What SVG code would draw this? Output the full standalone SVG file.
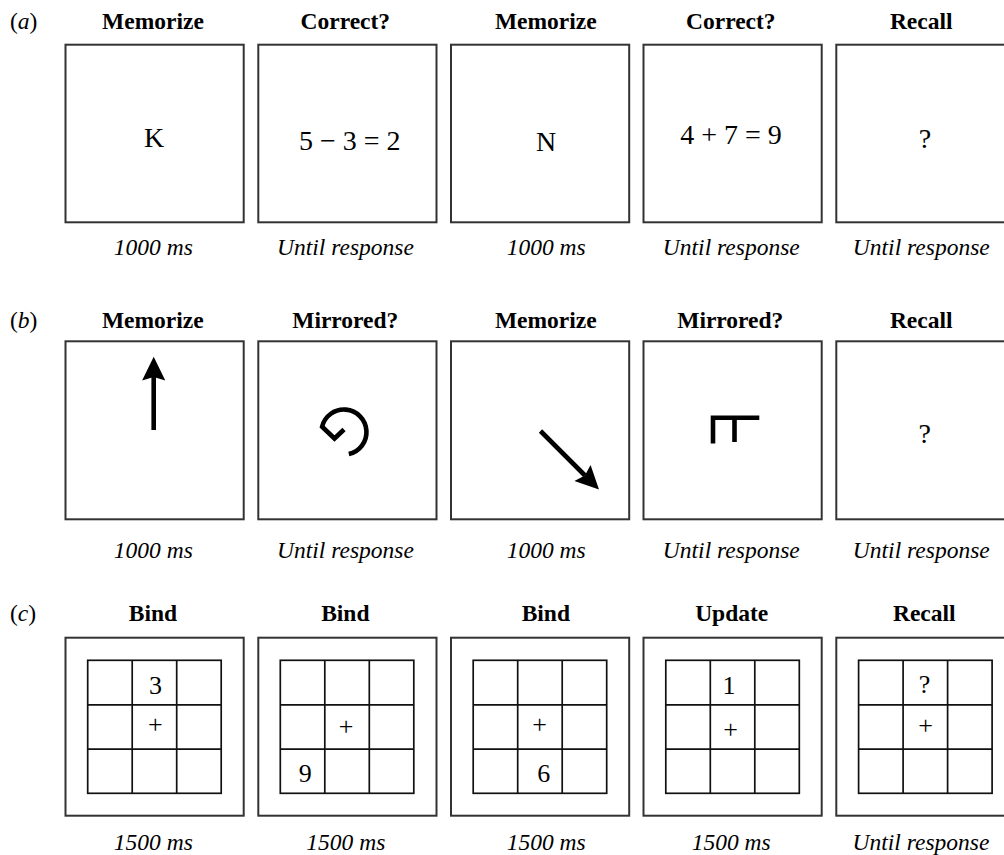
<svg xmlns="http://www.w3.org/2000/svg" xmlns:xlink="http://www.w3.org/1999/xlink" width="1004" height="855" viewBox="0 0 1004 855">
<style>
text{font-family:"Liberation Serif","Times New Roman",serif;fill:#000}
.title{font-size:23.5px;font-weight:bold;text-anchor:middle}
.dur{font-size:23.5px;font-style:italic;text-anchor:middle}
.sec{font-size:23.5px}
.stim{font-size:28px;text-anchor:middle}
.cell{font-size:26px;text-anchor:middle}
.box{fill:#fff;stroke:#333;stroke-width:2}
.glyph{fill:none;stroke:#000;stroke-width:4.6;stroke-linejoin:miter;stroke-linecap:butt}
</style>
<defs>
<g id="grid">
<rect x="0" y="0" width="133.5" height="133" fill="none" stroke="#111" stroke-width="1.7"/>
<path d="M44.5,0V133M89,0V133M0,44.5H133.5M0,88.8H133.5" fill="none" stroke="#111" stroke-width="1.7"/>
</g>
</defs>
<rect width="1004" height="855" fill="#fff"/>

<!-- Row a -->
<g id="row-a">
<text class="sec" x="10" y="29">(<tspan font-style="italic">a</tspan>)</text>
<g id="a1"><text class="title" x="153" y="29">Memorize</text><rect class="box" x="65.5" y="44.7" width="178.2" height="177.6"/><text class="stim" x="154" y="147">K</text><text class="dur" x="153.3" y="255">1000 ms</text></g>
<g id="a2"><text class="title" x="345.3" y="29">Correct?</text><rect class="box" x="258.3" y="44.7" width="178.2" height="177.6"/><text class="stim" x="349.8" y="150">5 − 3 = 2</text><text class="dur" x="345.5" y="255">Until response</text></g>
<g id="a3"><text class="title" x="545.8" y="29">Memorize</text><rect class="box" x="451" y="44.7" width="178.2" height="177.6"/><text class="stim" x="546" y="151">N</text><text class="dur" x="546.2" y="255">1000 ms</text></g>
<g id="a4"><text class="title" x="730.8" y="29">Correct?</text><rect class="box" x="643.5" y="44.7" width="178.2" height="177.6"/><text class="stim" x="731" y="144.3">4 + 7 = 9</text><text class="dur" x="731.3" y="255">Until response</text></g>
<g id="a5"><text class="title" x="921.2" y="29">Recall</text><rect class="box" x="836.3" y="44.7" width="178.2" height="177.6"/><text class="stim" x="925" y="148.3">?</text><text class="dur" x="921.3" y="255">Until response</text></g>
</g>

<!-- Row b -->
<g id="row-b">
<text class="sec" x="10" y="328.3">(<tspan font-style="italic">b</tspan>)</text>
<g id="b1"><text class="title" x="152.8" y="328.3">Memorize</text><rect class="box" x="65.5" y="341.3" width="178.2" height="178"/>
<line x1="153.7" y1="430" x2="153.7" y2="376" stroke="#000" stroke-width="4.6"/>
<path d="M153.7,356.7L165.3,380.5L153.7,377L142.1,380.5Z" fill="#000"/>
<text class="dur" x="153.3" y="558.3">1000 ms</text></g>
<g id="b2"><text class="title" x="345.3" y="328.3">Mirrored?</text><rect class="box" x="258.3" y="341.3" width="178.2" height="178"/>
<path class="glyph" d="M348.8,454A22.5,22.5 0 1 0 322.1,426.7L334.5,438.5L344,429.5"/>
<text class="dur" x="345.5" y="558.3">Until response</text></g>
<g id="b3"><text class="title" x="545.8" y="328.3">Memorize</text><rect class="box" x="451" y="341.3" width="178.2" height="178"/>
<line x1="540.5" y1="431" x2="585" y2="475.5" stroke="#000" stroke-width="4.6"/>
<path d="M599,489.5L574.4,481.1L584.9,475.4L590.6,464.9Z" fill="#000"/>
<text class="dur" x="546.2" y="558.3">1000 ms</text></g>
<g id="b4"><text class="title" x="730.3" y="328.3">Mirrored?</text><rect class="box" x="643.5" y="341.3" width="178.2" height="178"/>
<path class="glyph" d="M713,443.5V417.7H759.3M734.5,417.7V442"/>
<text class="dur" x="731.3" y="558.3">Until response</text></g>
<g id="b5"><text class="title" x="921.2" y="328.3">Recall</text><rect class="box" x="836.3" y="341.3" width="178.2" height="178"/><text class="stim" x="924.8" y="443.3">?</text><text class="dur" x="921.3" y="558.3">Until response</text></g>
</g>

<!-- Row c -->
<g id="row-c">
<text class="sec" x="10" y="621">(<tspan font-style="italic">c</tspan>)</text>
<g id="c1"><text class="title" x="153" y="620.7">Bind</text><rect class="box" x="65.5" y="637.7" width="178.2" height="178"/><use xlink:href="#grid" href="#grid" x="87.7" y="660.3"/>
<text class="cell" x="155.5" y="694.3">3</text><text class="cell" x="155.3" y="733.3">+</text><text class="dur" x="153.3" y="850">1500 ms</text></g>
<g id="c2"><text class="title" x="345.3" y="620.7">Bind</text><rect class="box" x="258.3" y="637.7" width="178.2" height="178"/><use xlink:href="#grid" href="#grid" x="280.3" y="660.3"/>
<text class="cell" x="346" y="735">+</text><text class="cell" x="305.3" y="781.7">9</text><text class="dur" x="345.8" y="850">1500 ms</text></g>
<g id="c3"><text class="title" x="545.8" y="620.7">Bind</text><rect class="box" x="451" y="637.7" width="178.2" height="178"/><use xlink:href="#grid" href="#grid" x="473.2" y="660.3"/>
<text class="cell" x="539.7" y="733.3">+</text><text class="cell" x="543.8" y="781.7">6</text><text class="dur" x="546.2" y="850">1500 ms</text></g>
<g id="c4"><text class="title" x="731.7" y="620.7">Update</text><rect class="box" x="643.5" y="637.7" width="178.2" height="178"/><use xlink:href="#grid" href="#grid" x="665.8" y="660.3"/>
<text class="cell" x="729" y="694.3">1</text><text class="cell" x="730.5" y="738.3">+</text><text class="dur" x="731.2" y="850">1500 ms</text></g>
<g id="c5"><text class="title" x="924.3" y="620.7">Recall</text><rect class="box" x="836.3" y="637.7" width="178.2" height="178"/><use xlink:href="#grid" href="#grid" x="858.6" y="660.3"/>
<text class="cell" x="924.5" y="693.3">?</text><text class="cell" x="925.7" y="734.3">+</text><text class="dur" x="921" y="850">Until response</text></g>
</g>
</svg>
